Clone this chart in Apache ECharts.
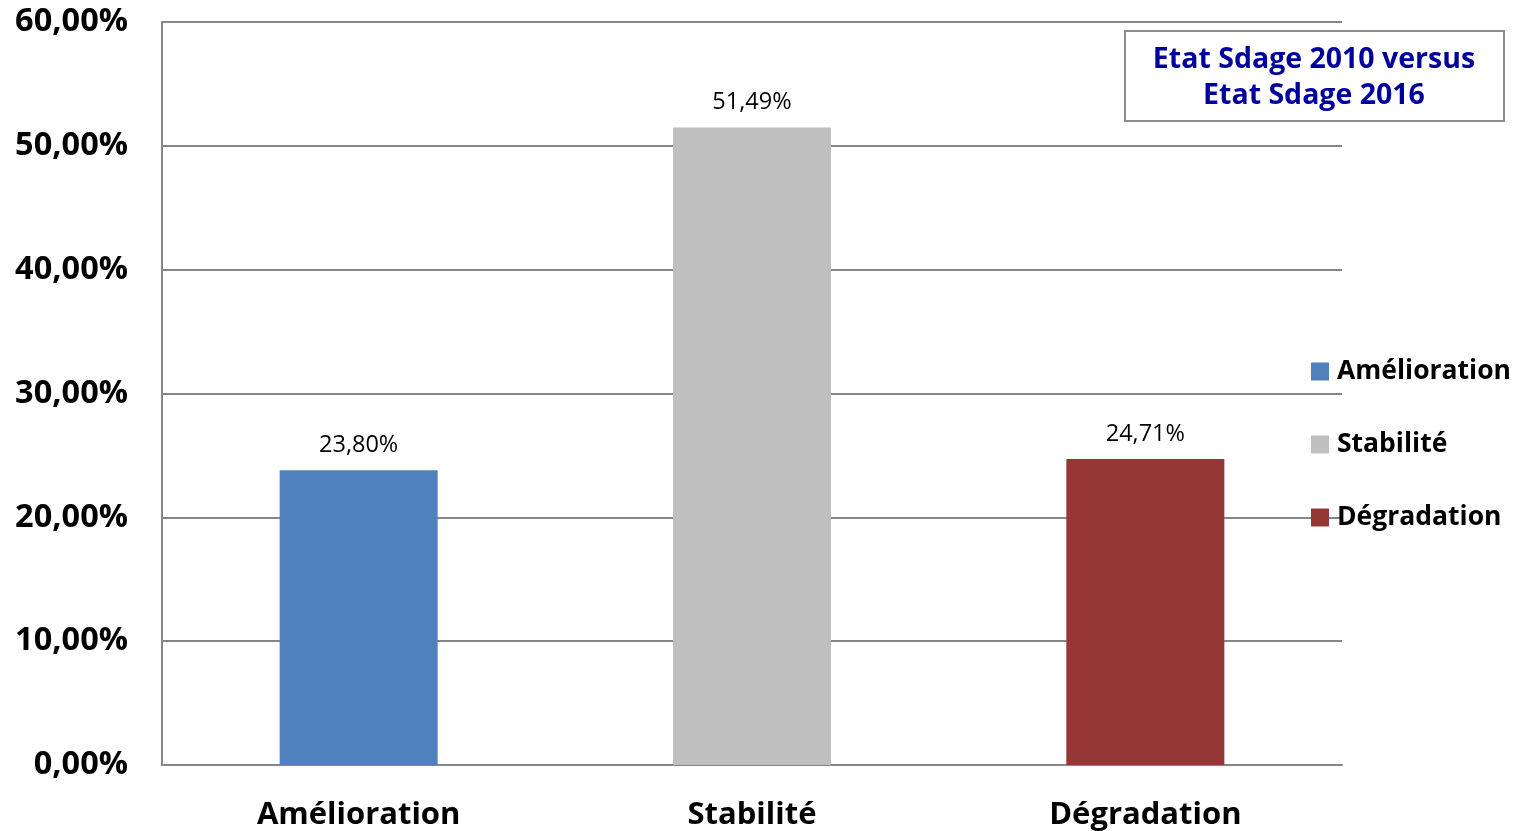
<!DOCTYPE html>
<html>
<head>
<meta charset="utf-8">
<script src="https://cdn.jsdelivr.net/npm/echarts@6/dist/echarts.min.js"></script>
<style>
  html, body { margin: 0; padding: 0; background: #fff; }
  #chart { width: 1523px; height: 831px; }
</style>
</head>
<body>
<div id="chart"></div>
<script>
// Categories and shares (in %) of water bodies by change of status
const categories = ['Amélioration', 'Stabilité', 'Dégradation'];
const shares = [23.80, 51.49, 24.71];
const barColors = ['#4F81BD', '#C0C0C0', '#953735'];
const yTicks = [0, 10, 20, 30, 40, 50, 60];
const boxLines = ['Etat Sdage 2010 versus', 'Etat Sdage 2016'];

const fmt = v => v.toFixed(2).replace('.', ',') + '%';

// One series per category so the legend lists each one; bars overlap in place.
const series = categories.map((name, i) => ({
  name: name,
  type: 'bar',
  barWidth: 158,
  barGap: '-100%',
  itemStyle: { color: barColors[i] },
  data: categories.map((c, j) => (j === i ? shares[i] : null)),
  label: {
    show: true,
    position: 'top',
    distance: 13,
    color: '#000',
    fontFamily: 'Open Sans',
    fontSize: 23.5,
    formatter: p => fmt(p.value)
  }
}));

const chart = echarts.init(document.getElementById('chart'), null, { renderer: 'canvas' });
chart.setOption({
  animation: false,
  backgroundColor: '#fff',
  grid: { left: 162, right: 181, top: 22, bottom: 66, containLabel: false },
  xAxis: {
    type: 'category',
    data: categories,
    axisLine: { lineStyle: { color: '#868686', width: 2 } },
    axisTick: { show: false },
    axisLabel: {
      color: '#000',
      fontFamily: 'Open Sans',
      fontWeight: 'bold',
      fontSize: 31,
      margin: 35
    }
  },
  yAxis: {
    type: 'value',
    min: yTicks[0],
    max: yTicks[yTicks.length - 1],
    interval: 10,
    axisLine: { show: true, lineStyle: { color: '#868686', width: 2 } },
    axisTick: { show: false },
    splitLine: { lineStyle: { color: '#868686', width: 2 } },
    axisLabel: {
      color: '#000',
      fontFamily: 'Open Sans',
      fontWeight: 'bold',
      fontSize: 32.5,
      margin: 34,
      formatter: v => fmt(v)
    }
  },
  legend: {
    orient: 'vertical',
    left: 1306,
    top: 353,
    itemWidth: 18,
    itemHeight: 18,
    itemGap: 46,
    icon: 'rect',
    textStyle: {
      color: '#000',
      fontFamily: 'Open Sans',
      fontWeight: 'bold',
      fontSize: 26.5,
      padding: [0, 0, 0, 3]
    },
    data: categories
  },
  graphic: [
    {
      type: 'rect',
      left: 1124,
      top: 30,
      shape: { width: 379, height: 90 },
      style: { fill: '#fff', stroke: '#8c8c8c', lineWidth: 2 }
    },
    {
      type: 'text',
      x: 1314,
      y: 42,
      style: {
        text: boxLines.join('\n'),
        textAlign: 'center',
        fill: '#00009c',
        fontFamily: 'Open Sans',
        fontWeight: 'bold',
        fontSize: 28.5,
        lineHeight: 36
      }
    }
  ],
  series: series
});
</script>
</body>
</html>
